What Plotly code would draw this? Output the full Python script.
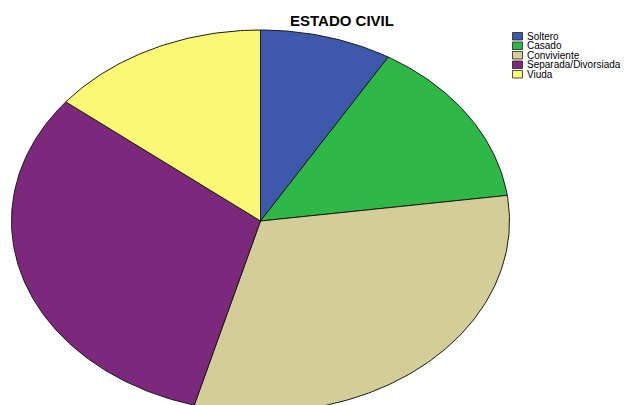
import numpy as np
import plotly.graph_objects as go

# Marital status counts
categories = ["Soltero", "Casado", "Conviviente", "Separada/Divorsiada", "Viuda"]
counts = [6, 10, 22, 22, 10]
colors = ["#3e58ac", "#2eb848", "#d3ce97", "#7c287d", "#fbf873"]
title_text = "ESTADO CIVIL"

W, H = 635, 405
cx, cy = 260.5, 221.0   # pie centre (pixels)
rx, ry = 249.0, 191.0   # elliptical radii (pixels)

fig = go.Figure()

fractions = np.array(counts, dtype=float) / np.sum(counts)
starts = np.concatenate([[0.0], np.cumsum(fractions)[:-1]]) * 2 * np.pi
ends = np.cumsum(fractions) * 2 * np.pi

# Elliptical slices, clockwise from 12 o'clock
for name, color, a0, a1 in zip(categories, colors, starts, ends):
    n = max(int((a1 - a0) / (2 * np.pi) * 400), 8)
    t = np.linspace(a0, a1, n)
    xs = np.concatenate([[cx], cx + rx * np.sin(t), [cx]])
    ys = np.concatenate([[cy], cy - ry * np.cos(t), [cy]])
    fig.add_trace(go.Scatter(
        x=xs, y=ys, mode="lines", fill="toself", fillcolor=color,
        line=dict(color="#1a1a1a", width=1), name=name,
        showlegend=False, hoverinfo="name",
    ))

# Legend: swatches and labels
leg_x0, leg_y0, row_h = 512.5, 32.5, 9.5
shapes = []
annotations = []
for i, (name, color) in enumerate(zip(categories, colors)):
    y_top = leg_y0 + i * row_h
    shapes.append(dict(type="rect", xref="x", yref="y",
                       x0=leg_x0, x1=leg_x0 + 10, y0=y_top, y1=y_top + 7.5,
                       fillcolor=color, line=dict(color="#222222", width=0.8)))
    annotations.append(dict(x=leg_x0 + 12.5, y=y_top + 3.9, xref="x", yref="y",
                            text=name, showarrow=False, xanchor="left", yanchor="middle",
                            font=dict(family="Liberation Sans, Arial", size=10, color="#000000")))

annotations.append(dict(x=342, y=20.5, xref="x", yref="y", text="<b>" + title_text + "</b>",
                        showarrow=False, xanchor="center", yanchor="middle",
                        font=dict(family="Liberation Sans, Arial", size=15, color="#000000")))

fig.update_layout(
    width=W, height=H,
    margin=dict(l=0, r=0, t=0, b=0),
    paper_bgcolor="white", plot_bgcolor="white",
    xaxis=dict(range=[0, W], visible=False, fixedrange=True),
    yaxis=dict(range=[H, 0], visible=False, fixedrange=True),
    shapes=shapes, annotations=annotations,
    showlegend=False,
)

fig.write_html("out.html")
